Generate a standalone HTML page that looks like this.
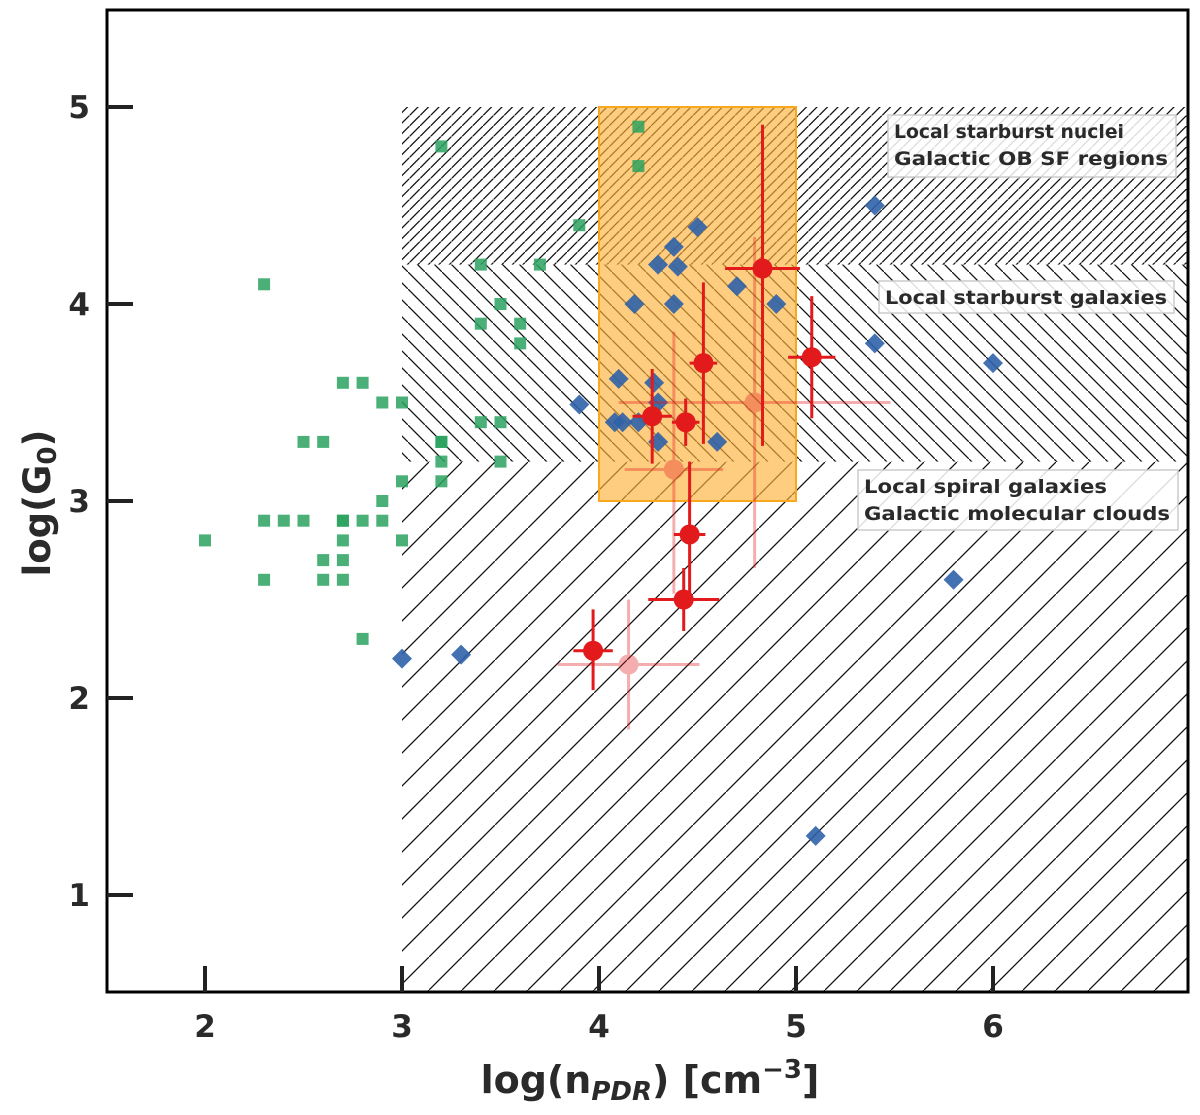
<!DOCTYPE html>
<html><head><meta charset="utf-8">
<style>
html,body{margin:0;padding:0;background:#fff;}
svg{display:block;font-family:"DejaVu Sans","Liberation Sans",sans-serif;}
</style></head>
<body>
<svg id="chart" width="1200" height="1115" viewBox="0 0 1200 1115">
<defs>
<pattern id="hTop" patternUnits="userSpaceOnUse" width="10.5" height="10.5"><line x1="-1" y1="11.5" x2="11.5" y2="-1" stroke="#111" stroke-width="1.3"/></pattern>
<pattern id="hMid" patternUnits="userSpaceOnUse" width="17" height="17"><line x1="-1" y1="-1" x2="18" y2="18" stroke="#111" stroke-width="1.3"/></pattern>
<pattern id="hBot" patternUnits="userSpaceOnUse" width="33" height="33"><line x1="-1" y1="34" x2="34" y2="-1" stroke="#111" stroke-width="1.3"/></pattern>
<clipPath id="plotClip"><rect x="107" y="10" width="1081" height="982"/></clipPath>
</defs>
<g id="regions" clip-path="url(#plotClip)"></g>
<g id="marks" clip-path="url(#plotClip)"></g>
<g id="labels"></g>
<rect x="107" y="10" width="1081" height="982" fill="none" stroke="#000" stroke-width="3"/>
<g id="axes"></g>
<text x="50" y="503" font-size="37" font-weight="bold" fill="#2a2a2a" text-anchor="middle" transform="rotate(-90 50 503)">log(G<tspan font-size="26" dy="6">0</tspan><tspan dy="-6">)</tspan></text>
<text x="650" y="1093" font-size="38" font-weight="bold" fill="#2a2a2a" text-anchor="middle">log(n<tspan font-size="26" font-style="italic" dy="7">PDR</tspan><tspan dy="-7">) [cm</tspan><tspan font-size="26" dy="-15">−3</tspan><tspan dy="15">]</tspan></text>
</svg>
<script>
const xTicks=[2,3,4,5,6];
const yTicks=[1,2,3,4,5];
const greenX=[2.0,2.3,2.3,2.3,2.4,2.5,2.5,2.6,2.6,2.6,2.7,2.7,2.7,2.7,2.7,2.7,2.8,2.8,2.8,2.9,2.9,2.9,3.0,3.0,3.0,3.2,3.2,3.2,3.2,3.2,3.4,3.4,3.4,3.5,3.5,3.5,3.6,3.6,3.7,3.9,4.2,4.2];
const greenY=[2.8,4.1,2.9,2.6,2.9,3.3,2.9,3.3,2.7,2.6,3.6,2.9,2.9,2.8,2.7,2.6,3.6,2.9,2.3,3.5,3.0,2.9,3.5,3.1,2.8,4.8,3.3,3.3,3.2,3.1,4.2,3.9,3.4,4.0,3.4,3.2,3.9,3.8,4.2,4.4,4.9,4.7];
const blueX=[3.0,3.3,3.9,4.1,4.08,4.12,4.18,4.2,4.28,4.3,4.3,4.3,4.38,4.38,4.4,4.5,4.6,4.7,4.9,5.4,5.4,5.1,5.8,6.0];
const blueY=[2.2,2.22,3.49,3.62,3.4,3.4,4.0,3.4,3.6,4.2,3.5,3.3,4.29,4.0,4.19,4.39,3.3,4.09,4.0,4.5,3.8,1.3,2.6,3.7];
const redX=[3.97,4.27,4.44,4.53,4.83,5.08,4.46,4.43];
const redY=[2.24,3.43,3.40,3.70,4.18,3.73,2.83,2.50];
const redXErr=[0.1,0.1,0.07,0.07,0.19,0.12,0.08,0.18];
const redYErrUp=[0.21,0.24,0.12,0.41,0.73,0.31,0.37,0.16];
const redYErrDown=[0.2,0.24,0.12,0.41,0.9,0.31,0.30,0.16];
const faintX=[4.15,4.38,4.79];
const faintY=[2.17,3.16,3.50];
const faintXErr=[0.36,0.25,0.69];
const faintYErrUp=[0.33,0.70,0.84];
const faintYErrDown=[0.33,0.63,0.84];

const X=v=>205+(v-2)*197;
const Y=v=>107+(5-v)*197;
const NS="http://www.w3.org/2000/svg";
function mk(tag,attrs,parent){const e=document.createElementNS(NS,tag);for(const k in attrs)e.setAttribute(k,attrs[k]);parent.appendChild(e);return e;}

const reg=document.getElementById('regions');
let r;
r=mk('rect',{x:X(3),y:Y(3.2),width:X(7.2)-X(3),height:Y(0.4)-Y(3.2),fill:'url(#hBot)'},reg);


r=mk('rect',{x:X(3),y:Y(4.2),width:X(7.2)-X(3),height:Y(3.2)-Y(4.2),fill:'url(#hMid)'},reg);


r=mk('rect',{x:X(3),y:Y(5),width:X(7.2)-X(3),height:Y(4.2)-Y(5),fill:'url(#hTop)'},reg);


r=mk('rect',{x:X(4),y:Y(5),width:X(5)-X(4),height:Y(3)-Y(5),fill:'#fdb23a','fill-opacity':0.65,stroke:'#f8a81c','stroke-width':2},reg);



const mg=document.getElementById('marks');
greenX.forEach((x,i)=>{
  const e=mk('rect',{x:X(x)-6,y:Y(greenY[i])-6,width:12,height:12,fill:'#2ca25f','fill-opacity':0.85},mg);
  
  
});
blueX.forEach((x,i)=>{
  const cx=X(x),cy=Y(blueY[i]);
  const e=mk('polygon',{points:`${cx},${cy-10} ${cx+10},${cy} ${cx},${cy+10} ${cx-10},${cy}`,fill:'#2f62a8','fill-opacity':0.9},mg);
  
  
});
faintX.forEach((x,i)=>{
  const g=mk('g',{opacity:0.35},mg);
  
  
  mk('line',{x1:X(x-faintXErr[i]),x2:X(x+faintXErr[i]),y1:Y(faintY[i]),y2:Y(faintY[i]),stroke:'#e31a1c','stroke-width':3},g);
  mk('line',{x1:X(x),x2:X(x),y1:Y(faintY[i]+faintYErrUp[i]),y2:Y(faintY[i]-faintYErrDown[i]),stroke:'#e31a1c','stroke-width':3},g);
  mk('circle',{cx:X(x),cy:Y(faintY[i]),r:10,fill:'#e31a1c'},g);
});
redX.forEach((x,i)=>{
  const g=mk('g',{},mg);
  
  
  mk('line',{x1:X(x-redXErr[i]),x2:X(x+redXErr[i]),y1:Y(redY[i]),y2:Y(redY[i]),stroke:'#e31a1c','stroke-width':3},g);
  mk('line',{x1:X(x),x2:X(x),y1:Y(redY[i]+redYErrUp[i]),y2:Y(redY[i]-redYErrDown[i]),stroke:'#e31a1c','stroke-width':3},g);
  mk('circle',{cx:X(x),cy:Y(redY[i]),r:10,fill:'#e31a1c'},g);
});

const lg=document.getElementById('labels');
const boxes=[[888,115,288,62,["Local starburst nuclei","Galactic OB SF regions"],[230,274],'label-starburst-nuclei'],
             [879,281,295,32,["Local starburst galaxies"],[282],'label-starburst-galaxies'],
             [858,470,320,60,["Local spiral galaxies","Galactic molecular clouds"],[243,306],'label-spiral-galaxies']];
boxes.forEach(b=>{
  const g=mk('g',{},lg);
  
  
  mk('rect',{x:b[0],y:b[1],width:b[2],height:b[3],fill:'#fff','fill-opacity':0.85,stroke:'#cccccc','stroke-width':1.5},g);
  b[4].forEach((t,j)=>{
    const tx=mk('text',{x:b[0]+6,y:b[1]+23+j*27,'font-size':19,'font-weight':'bold',fill:'#2a2a2a',textLength:b[5][j],lengthAdjust:'spacingAndGlyphs'},g);
    tx.textContent=t;
  });
});

const ax=document.getElementById('axes');
xTicks.forEach(v=>{
  const l=mk('line',{x1:X(v),x2:X(v),y1:992,y2:966,stroke:'#222','stroke-width':4},ax);
  
  
  const t=mk('text',{x:X(v),y:1037,'font-size':31,'font-weight':'bold',fill:'#2a2a2a','text-anchor':'middle'},ax);
  
  
  t.textContent=v;
});
yTicks.forEach(v=>{
  const l=mk('line',{x1:107,x2:133,y1:Y(v),y2:Y(v),stroke:'#222','stroke-width':4},ax);
  
  
  const t=mk('text',{x:90,y:Y(v)+11,'font-size':31,'font-weight':'bold',fill:'#2a2a2a','text-anchor':'end'},ax);
  
  
  t.textContent=v;
});
</script>
</body></html>
